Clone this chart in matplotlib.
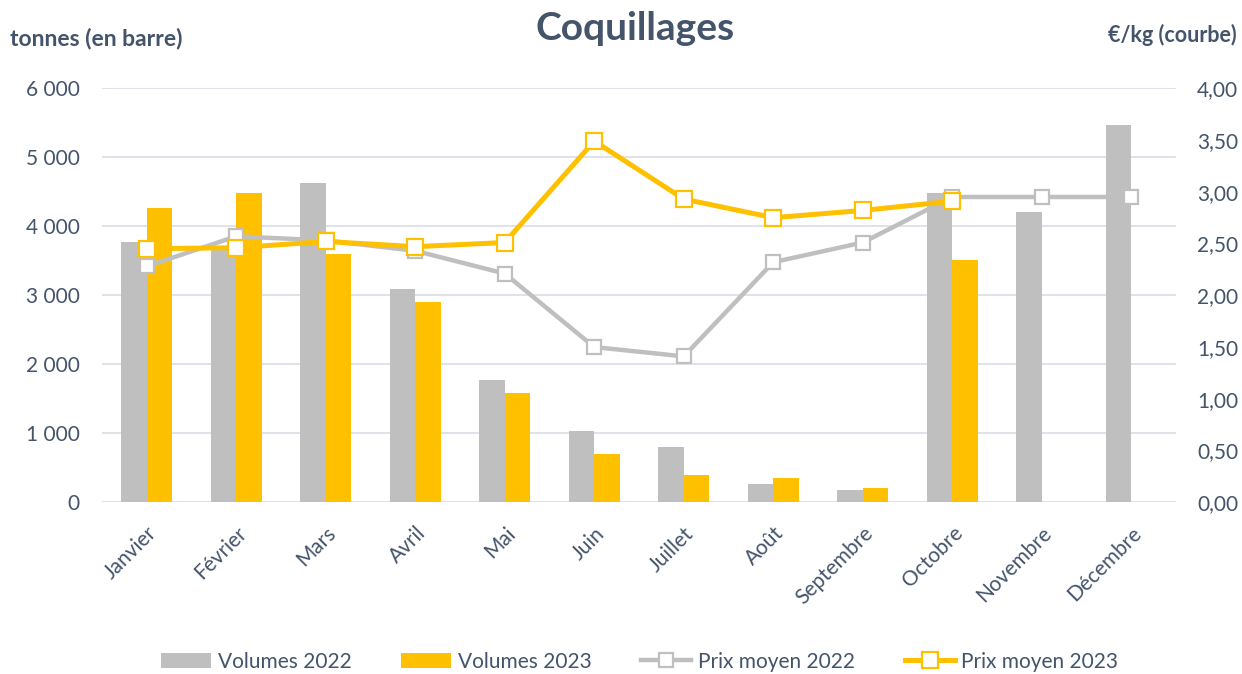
import matplotlib
matplotlib.use("Agg")
import matplotlib.pyplot as plt
import numpy as np

months = ["Janvier", "Février", "Mars", "Avril", "Mai", "Juin", "Juillet",
          "Août", "Septembre", "Octobre", "Novembre", "Décembre"]
vol_2022 = [3770, 3700, 4630, 3090, 1770, 1035, 800, 265, 175, 4480, 4210, 5470]
vol_2023 = [4260, 4480, 3600, 2900, 1590, 705, 395, 350, 210, 3505, np.nan, np.nan]
prix_2022 = [2.28, 2.57, 2.53, 2.43, 2.21, 1.50, 1.41, 2.32, 2.51, 2.95, 2.95, 2.95]
prix_2023 = [2.45, 2.46, 2.52, 2.47, 2.51, 3.49, 2.93, 2.75, 2.82, 2.91, np.nan, np.nan]
left_ticks = [0, 1000, 2000, 3000, 4000, 5000, 6000]
left_labels = ["0", "1 000", "2 000", "3 000", "4 000", "5 000", "6 000"]
right_ticks = [0, 0.5, 1, 1.5, 2, 2.5, 3, 3.5, 4]
right_labels = ["0,00", "0,50", "1,00", "1,50", "2,00", "2,50", "3,00", "3,50", "4,00"]

GREY = "#BFBFBF"
GOLD = "#FFC000"
TXT = "#44546A"
GRID = "#D9DDE4"
FS = 15

plt.rcParams["font.family"] = ["Lato", "DejaVu Sans"]

fig = plt.figure(figsize=(12.42, 6.74), dpi=100)
ax = fig.add_axes([0.0821, 0.2547, 0.8648, 0.6143])
x = np.arange(len(months))
w = 0.287

ax.bar(x - w / 2, vol_2022, width=w, color=GREY, label="Volumes 2022", zorder=2)
ax.bar(x + w / 2, vol_2023, width=w, color=GOLD, label="Volumes 2023", zorder=2)
ax.set_xlim(-0.5, 11.5)
ax.set_ylim(0, 6000)
ax.set_yticks(left_ticks)
ax.set_yticklabels(left_labels)
ax.yaxis.grid(True, color=GRID, lw=1.2, zorder=0)
ax.set_axisbelow(True)
for s in ax.spines.values():
    s.set_visible(False)
ax.tick_params(axis="both", length=0, labelsize=FS, colors=TXT)
ax.tick_params(axis="y", pad=16)
ax.set_xticks(x)
ax.set_xticklabels(months, rotation=45, ha="right", rotation_mode="anchor")
ax.tick_params(axis="x", pad=15)

ax2 = ax.twinx()
ax2.set_ylim(0, 4)
ax2.set_yticks(right_ticks)
ax2.set_yticklabels(right_labels)
for s in ax2.spines.values():
    s.set_visible(False)
ax2.tick_params(axis="y", length=0, labelsize=FS, colors=TXT, pad=15)
ax2.plot(x, prix_2022, color=GREY, lw=3.2, marker="s", ms=10, mfc="white",
         mec=GREY, mew=1.6, label="Prix moyen 2022", zorder=3, solid_joinstyle="miter")
ax2.plot(x, prix_2023, color=GOLD, lw=3.6, marker="s", ms=11.5, mfc="white",
         mec=GOLD, mew=1.6, label="Prix moyen 2023", zorder=4, solid_joinstyle="miter")

fig.text(0.511, 0.958, "Coquillages", ha="center", va="center", fontsize=28,
         fontweight="bold", color=TXT)
fig.text(0.008, 0.943, "tonnes (en barre)", ha="left", va="center", fontsize=16.5,
         fontweight="bold", color=TXT)
fig.text(0.996, 0.948, "€/kg (courbe)", ha="right", va="center", fontsize=15.5,
         fontweight="bold", color=TXT)

h1, l1 = ax.get_legend_handles_labels()
h2, l2 = ax2.get_legend_handles_labels()
leg = fig.legend(h1 + h2, l1 + l2, loc="center", bbox_to_anchor=(0.515, 0.018),
                 ncol=4, frameon=False, fontsize=FS, handlelength=2.4,
                 handleheight=0.75, handletextpad=0.3, columnspacing=2.4,
                 numpoints=1)
for t in leg.get_texts():
    t.set_color(TXT)

fig.savefig("out.png", dpi=100)
